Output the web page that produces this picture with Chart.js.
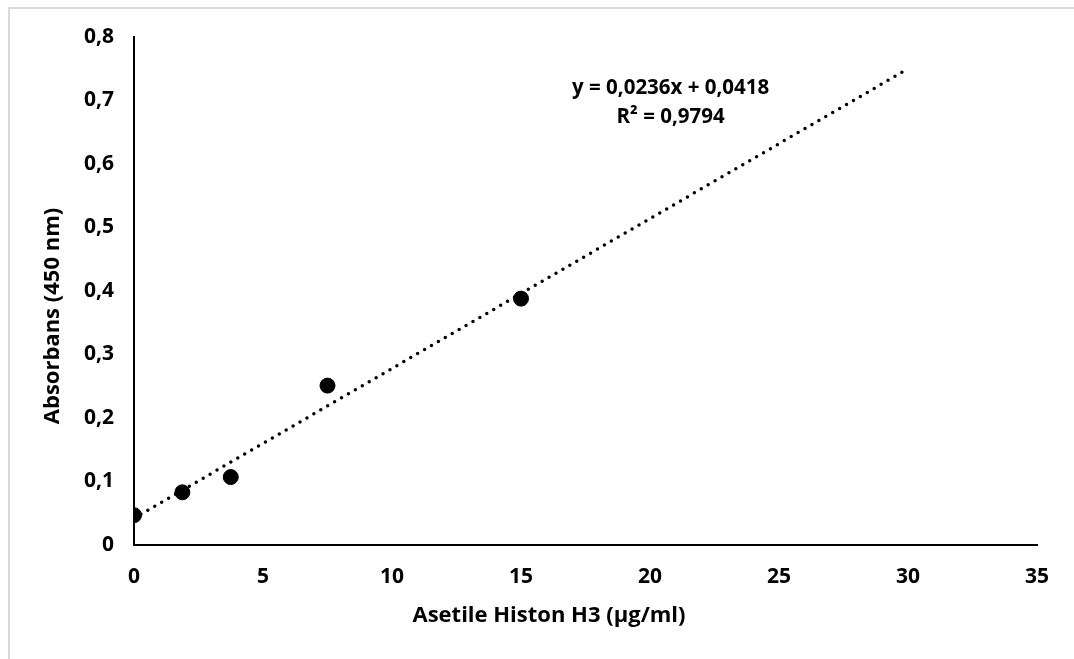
<!DOCTYPE html>
<html lang="tr">
<head>
  <meta charset="UTF-8">
  <title>Asetile Histon H3 standart eğrisi</title>
  <script src="https://cdn.jsdelivr.net/npm/chart.js"></script>
  <style>
    html, body { margin: 0; padding: 0; background: #fff; }
    #wrap { position: relative; width: 1074px; height: 659px; overflow: hidden; }
    #frame { position: absolute; left: 8px; top: 7px; width: 1200px; height: 800px;
             border-left: 2px solid #d9d9d9; border-top: 2px solid #d9d9d9; }
    #c { position: absolute; left: 0; top: 0; }
  </style>
</head>
<body>
<div id="wrap">
  <div id="frame"></div>
  <canvas id="c" width="1074" height="659"></canvas>
</div>
<script>
  // ölçüm noktaları (µg/ml -> absorbans)
  const concentrations = [0, 1.875, 3.75, 7.5, 15];
  const absorbance = [0.047, 0.083, 0.107, 0.251, 0.388];

  // doğrusal eğilim çizgisi uçları
  const trendX = [0, 30];
  const trendY = [0.042, 0.75];

  const equationLines = ['y = 0,0236x + 0,0418', 'R² = 0,9794'];
  const xTitle = 'Asetile Histon H3 (µg/ml)';
  const yTitle = 'Absorbans (450 nm)';

  const FONT = '"Open Sans", "Liberation Sans", sans-serif';

  const toXY = (xs, ys) => xs.map((x, i) => ({ x: x, y: ys[i] }));
  const comma = v => String(Math.round(v * 10) / 10).replace('.', ',');

  // eksen başlıkları ve denklem metni
  const textPlugin = {
    id: 'texts',
    afterDraw(chart) {
      const c = chart.ctx;
      const xs = chart.scales.x, ys = chart.scales.y;
      c.save();
      c.fillStyle = '#000';
      c.font = 'bold 20.5px ' + FONT;
      c.textAlign = 'center';
      c.textBaseline = 'middle';
      const ex = xs.getPixelForValue(20.8);
      const ey = ys.getPixelForValue(0.72);
      c.fillText(equationLines[0], ex, ey);
      c.fillText(equationLines[1], ex, ey + 29);

      c.font = 'bold 22px ' + FONT;
      c.fillText(xTitle, 549, 616);
      c.translate(53, 316);
      c.rotate(-Math.PI / 2);
      c.fillText(yTitle, 0, 0);
      c.restore();
    }
  };

  new Chart(document.getElementById('c'), {
    type: 'scatter',
    data: {
      datasets: [
        {
          label: 'Doğrusal',
          data: toXY(trendX, trendY),
          showLine: true,
          borderColor: '#000',
          borderWidth: 3.5,
          borderDash: [0, 8],
          borderCapStyle: 'round',
          pointRadius: 0,
          order: 2
        },
        {
          label: 'Absorbans',
          data: toXY(concentrations, absorbance),
          backgroundColor: '#000',
          borderColor: '#000',
          pointRadius: 7.5,
          order: 1
        }
      ]
    },
    options: {
      responsive: false,
      animation: false,
      layout: { padding: { top: 37, right: 37, bottom: 0, left: 0 } },
      plugins: { legend: { display: false }, tooltip: { enabled: false } },
      scales: {
        x: {
          min: 0, max: 35,
          ticks: { stepSize: 5, color: '#000', padding: 19, maxRotation: 0,
                   font: { family: FONT, size: 21, weight: 'bold' } },
          grid: { display: false, drawTicks: false },
          border: { color: '#000', width: 2 },
          afterFit(s) { s.height = 114; }
        },
        y: {
          min: 0, max: 0.8,
          ticks: { stepSize: 0.1, color: '#000', padding: 20,
                   callback: v => comma(v),
                   font: { family: FONT, size: 21, weight: 'bold' } },
          grid: { display: false, drawTicks: false },
          border: { color: '#000', width: 2 },
          afterFit(s) { s.width = 134; }
        }
      }
    },
    plugins: [textPlugin]
  });
</script>
</body>
</html>
